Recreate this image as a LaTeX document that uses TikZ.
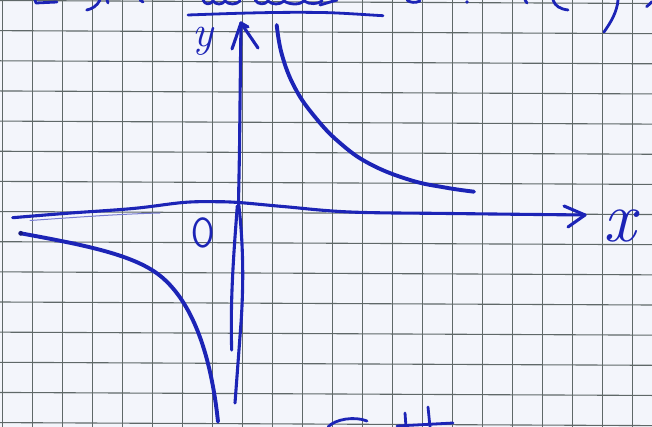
\documentclass[tikz,border=0pt]{standalone}
\definecolor{ink}{RGB}{28,36,182}
\definecolor{paper}{RGB}{243,245,251}
\definecolor{gridc}{RGB}{95,104,104}
\begin{document}
\begin{tikzpicture}[x=1pt,y=-1pt,
  inkline/.style={ink, line width=3.9pt, line cap=round, line join=round},
  axisline/.style={ink, line width=3.1pt, line cap=round, line join=round},
  frag/.style={ink, line width=2.8pt, line cap=round, line join=round},
  gridline/.style={gridc, line width=1.1pt},
  lbl/.style={ink, inner sep=0pt, outer sep=0pt}]
\fill[paper] (0,0) rectangle (652,427);
\useasboundingbox (0,0) rectangle (652,427);
% squared paper
\foreach \i in {0,...,21} \draw[gridline] (2.5+30*\i,0) -- (2.5+30*\i,427);
\foreach \j in {0,...,14} \draw[gridline] (0,0.5+30.15*\j) -- (652,3.5+30.15*\j);

% named points
\coordinate (ytip) at (241,23);
\coordinate (ycross) at (238.5,202.5);
\coordinate (ybotA) at (235,403);
\coordinate (ybotB) at (231.7,350);
\coordinate (ybarbL) at (232,49);
\coordinate (ybarbR) at (258,48);
\coordinate (xstart) at (12.7,217.7);
\coordinate (xtip) at (585,215);
\coordinate (xbarbU) at (564,206);
\coordinate (xbarbD) at (568,227);
\coordinate (lstart) at (20.7,233.3);
\coordinate (lknee) at (165,280);
\coordinate (lend) at (218,421.7);

% y axis
\draw[axisline] (ytip) -- (240.5,60) -- (239.5,150) -- (ycross)
  .. controls (243,240) and (244,280) .. (241,323) -- (ybotA);
\draw[axisline] (237.3,206) .. controls (234,250) and (230,300) .. (ybotB);
\draw[axisline] (ybarbL) -- (ytip) -- (ybarbR);
\draw[axisline] (ytip) -- (248,27);

% x axis
\draw[axisline] plot[smooth, tension=0.6] coordinates {(xstart) (66.7,213.3) (133,208.5) (183,202.5) (213,201.7) (ycross) (283,206.5) (350,212) (450,213.5) (xtip)};
\draw[ink!60, line width=1pt, line cap=round] (30,220.5) .. controls (80,217) and (120,214) .. (160,213);
\draw[axisline] (xbarbU) -- (xtip) -- (xbarbD);

% hyperbola branches
\draw[inkline] plot[smooth, tension=0.7] coordinates {(276.7,25) (282,55) (295,88) (315,117) (340,143) (370,164) (410,180) (445,187.5) (474,191.7)};
\draw[inkline] (lstart) .. controls (90,246) and (140,256) .. (lknee)
  .. controls (193,306) and (211,355) .. (lend);
\fill[ink!70!black] (lstart) circle (2.4pt);

% labels
\node[lbl, font=\fontsize{44}{44}\selectfont\itshape] (ylab) at (203,41) {y};
\node[lbl, font=\fontsize{42}{42}\selectfont\sffamily, xscale=0.8] (olab) at (203.5,232.5) {O};
\node[lbl, font=\fontsize{72}{72}\selectfont\itshape] (xlab) at (620,226) {x};

% cut-off handwriting at the top
\draw[frag] (35,0) -- (36,3) -- (57,2);
\draw[frag] (86.7,10) .. controls (92,9) and (97,6) .. (100,0);
\draw[frag] (107,0) -- (108,3);
\draw[frag] (140,0) -- (143,2);
\draw[frag] (203,0) .. controls (205,5) and (210,5) .. (213,1)
  .. controls (216,5) and (222,5) .. (225,1)
  .. controls (229,5) and (236,5) .. (240,1);
\draw[frag] (255,0) .. controls (258,5) and (265,5) .. (268,1)
  .. controls (272,5) and (280,5) .. (284,1)
  .. controls (290,5) and (300,5) .. (304,1)
  .. controls (310,5) and (318,4) .. (322,1);
\draw[frag] (320,5) -- (337,0);
\draw[frag] (188,15) .. controls (230,13.5) and (280,11.5) .. (330,12.7) .. controls (350,13.5) and (370,15) .. (383,15.7);
\draw[frag] (407,0) .. controls (410,3) and (416,3) .. (420,1);
\fill[ink] (467,2) circle (1.8pt);
\draw[frag] (525,0) -- (527,3);
\draw[frag] (553,0) .. controls (555,6) and (560,9) .. (568,10);
\draw[frag] (618,0) .. controls (617,12) and (611,22) .. (604,32);
\draw[frag] (646.7,6.7) -- (652,1.7);

% cut-off handwriting at the bottom
\draw[frag] (328,427) .. controls (335,419) and (355,416) .. (367,421);
\draw[frag] (405,413) -- (406,427);
\draw[frag] (428,407) -- (430,427);
\draw[frag] (397,426) -- (453,423);
\end{tikzpicture}
\end{document}
